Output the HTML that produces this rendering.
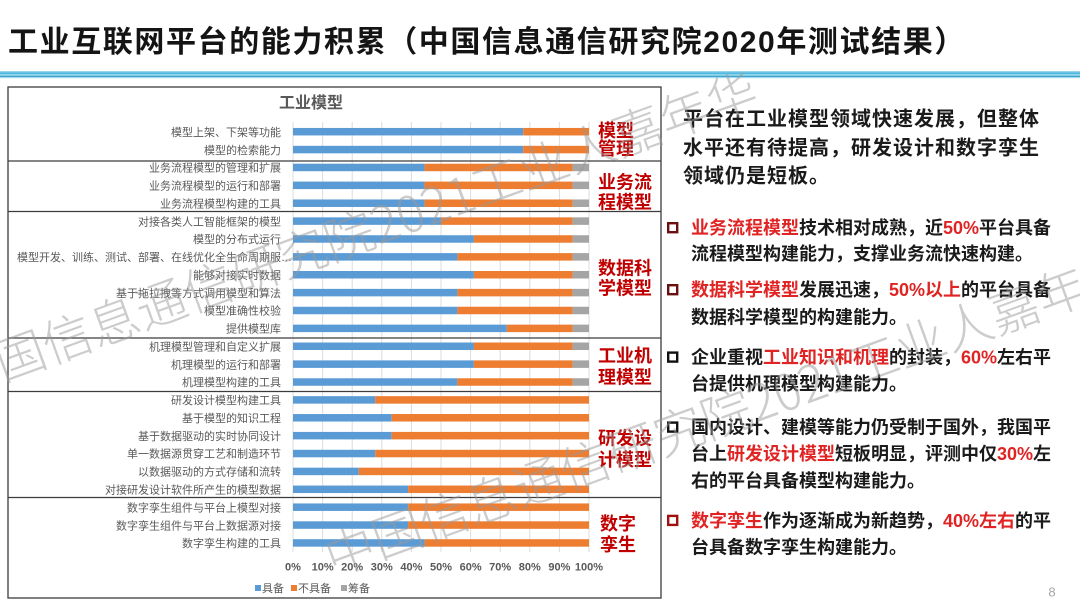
<!DOCTYPE html>
<html>
<head>
<meta charset="utf-8">
<style>
  html,body{margin:0;padding:0;background:#fff;}
  body{width:1080px;height:608px;overflow:hidden;position:relative;}
  svg{position:absolute;left:0;top:0;}
  .cjk{font-family:"Liberation Sans","Noto Sans CJK SC",sans-serif;}
</style>
</head>
<body>
<svg width="1080" height="608" viewBox="0 0 1080 608" xmlns="http://www.w3.org/2000/svg">
  <!-- Title -->
  <text x="8" y="52" class="cjk" font-size="30" font-weight="bold" fill="#141414" style="letter-spacing:1.6px">工业互联网平台的能力积累（中国信息通信研究院2020年测试结果）</text>

  <!-- blue rule -->
  <rect x="0" y="71" width="1080" height="1.2" fill="#96d5ec"/>
  <rect x="0" y="72.2" width="1080" height="2.3" fill="#4fb9e0"/>
  <rect x="0" y="74.5" width="1080" height="1" fill="#d2eff8"/>
  <rect x="0" y="75.5" width="1080" height="1.7" fill="#3aa6d0"/>
  <rect x="0" y="77.2" width="1080" height="1" fill="#a6dbee"/>

  <!-- chart box -->
  <rect x="8" y="87" width="653" height="511" fill="#fff" stroke="#3c3c3c" stroke-width="1.3"/>

  <!-- chart title -->
  <text x="311" y="108" text-anchor="middle" class="cjk" font-size="16" font-weight="bold" fill="#595959">工业模型</text>

  <!-- gridlines -->
  <g stroke="#dcdcdc" stroke-width="1">
    <line x1="293" y1="122" x2="293" y2="552"/>
    <line x1="322.6" y1="122" x2="322.6" y2="552"/>
    <line x1="352.2" y1="122" x2="352.2" y2="552"/>
    <line x1="381.8" y1="122" x2="381.8" y2="552"/>
    <line x1="411.4" y1="122" x2="411.4" y2="552"/>
    <line x1="441" y1="122" x2="441" y2="552"/>
    <line x1="470.6" y1="122" x2="470.6" y2="552"/>
    <line x1="500.2" y1="122" x2="500.2" y2="552"/>
    <line x1="529.8" y1="122" x2="529.8" y2="552"/>
    <line x1="559.4" y1="122" x2="559.4" y2="552"/>
    <line x1="589" y1="122" x2="589" y2="552"/>
  </g>

  <!-- bars -->
  <g>
    <rect x="293" y="127.95" width="230.2" height="7.5" fill="#5b9bd5"/>
    <rect x="523.2" y="127.95" width="65.8" height="7.5" fill="#ed7d31"/>
    <rect x="293" y="145.83" width="230.2" height="7.5" fill="#5b9bd5"/>
    <rect x="523.2" y="145.83" width="65.8" height="7.5" fill="#ed7d31"/>
    <rect x="293" y="163.71" width="131.6" height="7.5" fill="#5b9bd5"/>
    <rect x="424.6" y="163.71" width="148" height="7.5" fill="#ed7d31"/>
    <rect x="572.6" y="163.71" width="16.4" height="7.5" fill="#a5a5a5"/>
    <rect x="293" y="181.59" width="131.6" height="7.5" fill="#5b9bd5"/>
    <rect x="424.6" y="181.59" width="148" height="7.5" fill="#ed7d31"/>
    <rect x="572.6" y="181.59" width="16.4" height="7.5" fill="#a5a5a5"/>
    <rect x="293" y="199.47" width="131.6" height="7.5" fill="#5b9bd5"/>
    <rect x="424.6" y="199.47" width="148" height="7.5" fill="#ed7d31"/>
    <rect x="572.6" y="199.47" width="16.4" height="7.5" fill="#a5a5a5"/>
    <rect x="293" y="217.35" width="148" height="7.5" fill="#5b9bd5"/>
    <rect x="441" y="217.35" width="131.6" height="7.5" fill="#ed7d31"/>
    <rect x="572.6" y="217.35" width="16.4" height="7.5" fill="#a5a5a5"/>
    <rect x="293" y="235.23" width="180.9" height="7.5" fill="#5b9bd5"/>
    <rect x="473.9" y="235.23" width="98.7" height="7.5" fill="#ed7d31"/>
    <rect x="572.6" y="235.23" width="16.4" height="7.5" fill="#a5a5a5"/>
    <rect x="293" y="253.11" width="164.4" height="7.5" fill="#5b9bd5"/>
    <rect x="457.4" y="253.11" width="115.2" height="7.5" fill="#ed7d31"/>
    <rect x="572.6" y="253.11" width="16.4" height="7.5" fill="#a5a5a5"/>
    <rect x="293" y="270.99" width="180.9" height="7.5" fill="#5b9bd5"/>
    <rect x="473.9" y="270.99" width="98.7" height="7.5" fill="#ed7d31"/>
    <rect x="572.6" y="270.99" width="16.4" height="7.5" fill="#a5a5a5"/>
    <rect x="293" y="288.87" width="164.4" height="7.5" fill="#5b9bd5"/>
    <rect x="457.4" y="288.87" width="115.2" height="7.5" fill="#ed7d31"/>
    <rect x="572.6" y="288.87" width="16.4" height="7.5" fill="#a5a5a5"/>
    <rect x="293" y="306.75" width="164.4" height="7.5" fill="#5b9bd5"/>
    <rect x="457.4" y="306.75" width="115.2" height="7.5" fill="#ed7d31"/>
    <rect x="572.6" y="306.75" width="16.4" height="7.5" fill="#a5a5a5"/>
    <rect x="293" y="324.63" width="213.8" height="7.5" fill="#5b9bd5"/>
    <rect x="506.8" y="324.63" width="65.8" height="7.5" fill="#ed7d31"/>
    <rect x="572.6" y="324.63" width="16.4" height="7.5" fill="#a5a5a5"/>
    <rect x="293" y="342.51" width="180.9" height="7.5" fill="#5b9bd5"/>
    <rect x="473.9" y="342.51" width="98.7" height="7.5" fill="#ed7d31"/>
    <rect x="572.6" y="342.51" width="16.4" height="7.5" fill="#a5a5a5"/>
    <rect x="293" y="360.39" width="180.9" height="7.5" fill="#5b9bd5"/>
    <rect x="473.9" y="360.39" width="98.7" height="7.5" fill="#ed7d31"/>
    <rect x="572.6" y="360.39" width="16.4" height="7.5" fill="#a5a5a5"/>
    <rect x="293" y="378.27" width="164.4" height="7.5" fill="#5b9bd5"/>
    <rect x="457.4" y="378.27" width="115.2" height="7.5" fill="#ed7d31"/>
    <rect x="572.6" y="378.27" width="16.4" height="7.5" fill="#a5a5a5"/>
    <rect x="293" y="396.15" width="82.2" height="7.5" fill="#5b9bd5"/>
    <rect x="375.2" y="396.15" width="213.8" height="7.5" fill="#ed7d31"/>
    <rect x="293" y="414.03" width="98.7" height="7.5" fill="#5b9bd5"/>
    <rect x="391.7" y="414.03" width="197.3" height="7.5" fill="#ed7d31"/>
    <rect x="293" y="431.91" width="98.7" height="7.5" fill="#5b9bd5"/>
    <rect x="391.7" y="431.91" width="197.3" height="7.5" fill="#ed7d31"/>
    <rect x="293" y="449.79" width="82.2" height="7.5" fill="#5b9bd5"/>
    <rect x="375.2" y="449.79" width="213.8" height="7.5" fill="#ed7d31"/>
    <rect x="293" y="467.67" width="65.8" height="7.5" fill="#5b9bd5"/>
    <rect x="358.8" y="467.67" width="230.2" height="7.5" fill="#ed7d31"/>
    <rect x="293" y="485.55" width="115.1" height="7.5" fill="#5b9bd5"/>
    <rect x="408.1" y="485.55" width="180.9" height="7.5" fill="#ed7d31"/>
    <rect x="293" y="503.43" width="115.1" height="7.5" fill="#5b9bd5"/>
    <rect x="408.1" y="503.43" width="180.9" height="7.5" fill="#ed7d31"/>
    <rect x="293" y="521.31" width="115.1" height="7.5" fill="#5b9bd5"/>
    <rect x="408.1" y="521.31" width="180.9" height="7.5" fill="#ed7d31"/>
    <rect x="293" y="539.19" width="131.6" height="7.5" fill="#5b9bd5"/>
    <rect x="424.6" y="539.19" width="164.4" height="7.5" fill="#ed7d31"/>
  </g>

  <!-- category labels -->
  <g class="cjk" font-size="11" fill="#595959" text-anchor="end">
    <text x="281" y="135.9">模型上架、下架等功能</text>
    <text x="281" y="153.8">模型的检索能力</text>
    <text x="281" y="171.7">业务流程模型的管理和扩展</text>
    <text x="281" y="189.5">业务流程模型的运行和部署</text>
    <text x="281" y="207.4">业务流程模型构建的工具</text>
    <text x="281" y="225.3">对接各类人工智能框架的模型</text>
    <text x="281" y="243.2">模型的分布式运行</text>
    <text x="292" y="261.1">模型开发、训练、测试、部署、在线优化全生命周期服…</text>
    <text x="281" y="278.9">能够对接实时数据</text>
    <text x="281" y="296.8">基于拖拉拽等方式调用模型和算法</text>
    <text x="281" y="314.7">模型准确性校验</text>
    <text x="281" y="332.6">提供模型库</text>
    <text x="281" y="350.5">机理模型管理和自定义扩展</text>
    <text x="281" y="368.3">机理模型的运行和部署</text>
    <text x="281" y="386.2">机理模型构建的工具</text>
    <text x="281" y="404.1">研发设计模型构建工具</text>
    <text x="281" y="422">基于模型的知识工程</text>
    <text x="281" y="439.9">基于数据驱动的实时协同设计</text>
    <text x="281" y="457.7">单一数据源贯穿工艺和制造环节</text>
    <text x="281" y="475.6">以数据驱动的方式存储和流转</text>
    <text x="281" y="493.5">对接研发设计软件所产生的模型数据</text>
    <text x="281" y="511.4">数字孪生组件与平台上模型对接</text>
    <text x="281" y="529.3">数字孪生组件与平台上数据源对接</text>
    <text x="281" y="547.1">数字孪生构建的工具</text>
  </g>

  <!-- x tick labels -->
  <g class="cjk" font-size="11" font-weight="bold" fill="#595959" text-anchor="middle">
    <text x="293" y="570.7">0%</text>
    <text x="322.6" y="570.7">10%</text>
    <text x="352.2" y="570.7">20%</text>
    <text x="381.8" y="570.7">30%</text>
    <text x="411.4" y="570.7">40%</text>
    <text x="441" y="570.7">50%</text>
    <text x="470.6" y="570.7">60%</text>
    <text x="500.2" y="570.7">70%</text>
    <text x="529.8" y="570.7">80%</text>
    <text x="559.4" y="570.7">90%</text>
    <text x="589" y="570.7">100%</text>
  </g>

  <!-- legend -->
  <rect x="255" y="585" width="6" height="6" fill="#5b9bd5"/>
  <text x="262" y="592.2" class="cjk" font-size="11" fill="#595959">具备</text>
  <rect x="291" y="585" width="6" height="6" fill="#ed7d31"/>
  <text x="298" y="592.2" class="cjk" font-size="11" fill="#595959">不具备</text>
  <rect x="341" y="585" width="6" height="6" fill="#a5a5a5"/>
  <text x="348" y="592.2" class="cjk" font-size="11" fill="#595959">筹备</text>

  <!-- separators -->
  <g stroke="#3c3c3c" stroke-width="1.3">
    <line x1="8" y1="161" x2="661" y2="161"/>
    <line x1="8" y1="211.5" x2="661" y2="211.5"/>
    <line x1="8" y1="338" x2="661" y2="338"/>
    <line x1="8" y1="391.5" x2="661" y2="391.5"/>
    <line x1="8" y1="497.5" x2="661" y2="497.5"/>
  </g>

  <!-- red group labels -->
  <g class="cjk" font-size="18" font-weight="bold" fill="#c00000">
    <text x="598" y="137">模型</text>
    <text x="598" y="155">管理</text>
    <text x="598" y="188.5">业务流</text>
    <text x="598" y="208.5">程模型</text>
    <text x="598" y="274.5">数据科</text>
    <text x="598" y="294.5">学模型</text>
    <text x="598" y="362">工业机</text>
    <text x="598" y="383.5">理模型</text>
    <text x="598" y="444.5">研发设</text>
    <text x="598" y="466">计模型</text>
    <text x="600" y="530">数字</text>
    <text x="600" y="551">孪生</text>
  </g>

  <!-- right paragraph -->
  <g class="cjk" font-size="20" font-weight="bold" fill="#1a1a1a" style="letter-spacing:1px">
    <text x="683" y="125.6">平台在工业模型领域快速发展，但整体</text>
    <text x="683" y="154.3">水平还有待提高，研发设计和数字孪生</text>
    <text x="683" y="182.6">领域仍是短板。</text>
  </g>

  <!-- bullets -->
  <g fill="none" stroke-width="2.4">
    <rect x="668.2" y="223.2" width="9" height="9" stroke="#6b1010"/>
    <rect x="668.2" y="285.2" width="9" height="9" stroke="#6b1010"/>
    <rect x="668.2" y="352.6" width="9" height="9" stroke="#111"/>
    <rect x="668.2" y="422.6" width="9" height="9" stroke="#111"/>
    <rect x="668.2" y="515.9" width="9" height="9" stroke="#a01010"/>
  </g>
  <g class="cjk" font-size="18" font-weight="bold" fill="#1a1a1a">
    <text x="691" y="234.1"><tspan fill="#e02424">业务流程模型</tspan>技术相对成熟，近<tspan fill="#e02424">50%</tspan>平台具备</text>
    <text x="691" y="260.1">流程模型构建能力，支撑业务流快速构建。</text>
    <text x="691" y="296.1"><tspan fill="#e02424">数据科学模型</tspan>发展迅速，<tspan fill="#e02424">50%以上</tspan>的平台具备</text>
    <text x="691" y="323.5">数据科学模型的构建能力。</text>
    <text x="691" y="363.5">企业重视<tspan fill="#e02424">工业知识和机理</tspan>的封装，<tspan fill="#e02424">60%</tspan>左右平</text>
    <text x="691" y="390.1">台提供机理模型构建能力。</text>
    <text x="691" y="433.5">国内设计、建模等能力仍受制于国外，我国平</text>
    <text x="691" y="460.1">台上<tspan fill="#e02424">研发设计模型</tspan>短板明显，评测中仅<tspan fill="#e02424">30%</tspan>左</text>
    <text x="691" y="486.8">右的平台具备模型构建能力。</text>
    <text x="691" y="526.8"><tspan fill="#e02424">数字孪生</tspan>作为逐渐成为新趋势，<tspan fill="#e02424">40%左右</tspan>的平</text>
    <text x="691" y="553.5">台具备数字孪生构建能力。</text>
  </g>

  <!-- page number -->
  <text x="1052" y="596.5" text-anchor="middle" font-family="Liberation Sans, sans-serif" font-size="13" fill="#a6a6a6">8</text>

  <!-- watermarks -->
  <g font-family="Noto Sans CJK SC, sans-serif" font-size="50" font-weight="300" fill="#9a9a9a" opacity="0.5">
    <text x="-44" y="398.5" transform="rotate(-20 -44 398.5)">中国信息通信研究院2021工业人嘉年华</text>
    <text x="333" y="576.5" transform="rotate(-20 333 576.5)">中国信息通信研究院2021工业人嘉年华</text>
  </g>
</svg>
</body>
</html>
